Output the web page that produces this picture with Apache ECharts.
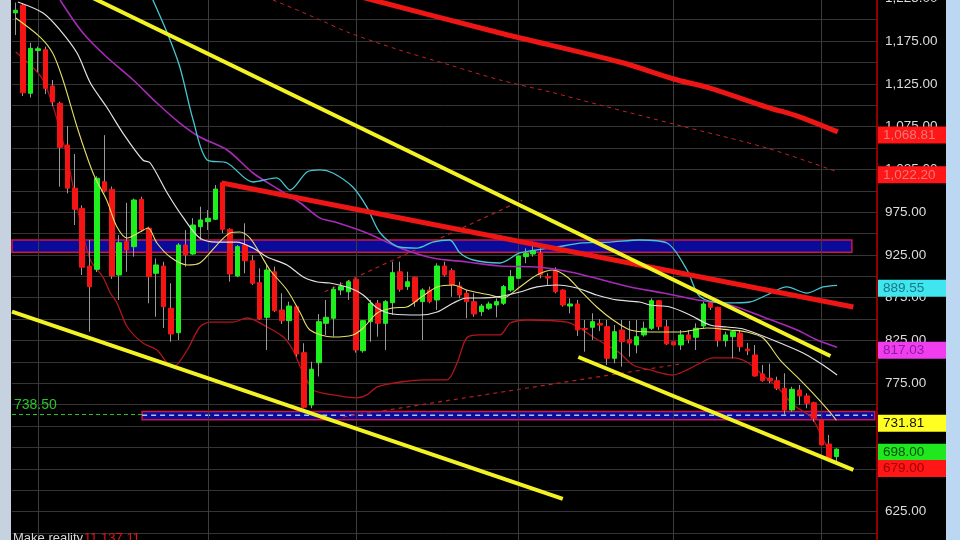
<!DOCTYPE html>
<html><head><meta charset="utf-8">
<script src="https://cdn.jsdelivr.net/npm/echarts/dist/echarts.min.js"></script>
<style>html,body{margin:0;padding:0;background:#000;}#c{width:960px;height:540px;}</style>
</head><body><div id="c"></div>
<script>
// ---------- DATA ----------
const N = 117; // trading-day slots on the x axis (112 candles + right margin)
const categories = [];
for (let i = 0; i < N; i++) categories.push('D' + (i + 1));

// [open, close, low, high]
const ohlc = [
[1208,1211,1182,1220],[1217,1114.6,1110.8,1219.5],[1114,1166.5,1109,1173],[1164,1166,1139,1168.5],
[1165,1119.8,1113,1168.5],[1122.5,1104,1099,1129.5],[1102.3,1050.8,1004.8,1104.1],[1053.5,1003,997,1075.7],
[1003,978.4,960,1043],[979.5,910.6,901.6,983],[912,888,835.3,942.5],[908.2,1014.6,905,1017],
[1010.6,999.8,998,1065],[1001.7,900.4,897,1005],[901.6,939.3,872.4,948.3],[940.5,930.8,905.4,986],
[934.7,989.2,923,991],[990,954.2,952,993],[956.2,899.6,868.5,958],[903.6,913.3,852.8,921],
[912,864.5,839.6,917],[862.7,832.6,823.6,891.9],[834.1,936.6,825.6,939],[936.6,925,911.3,954],
[926.1,960,925,968],[958,965.9,942.5,981.4],[963.9,967.9,954.2,977.5],[966.7,1002,966,1006.8],
[1009.5,955,950.3,1011.5],[955,902.7,893.8,956.2],[900.4,934.7,899,936.6],[936.6,918.3,903.6,962],
[918.3,891.9,890,925],[892.6,850.2,849,909.4],[852.1,907.4,813.9,913.3],[905.4,859.9,858.3,911.3],
[860.7,848.2,844.3,880.2],[848.2,865.3,825.6,870.4],[864.5,809.2,806,866.5],[810.8,747,745.8,821.8],
[749.6,791.4,745.8,800.2],[799.1,847,783,856],[845.1,852.1,831.5,872.4],[851,884.9,829.5,888],
[884,888,878,893],[882,893.7,872.4,895.7],[896.6,813.9,810.8,897.7],[813.1,848.2,810.8,849],
[847,868.5,823.6,872.4],[868.5,845.1,829.5,872.4],[845.1,870.4,813.9,872.4],[869.2,904.3,854.8,917.1],
[905.4,884.9,882,917.1],[888,893.7,884,905.4],[898.9,870.4,864.5,899.6],[870.4,884,825.6,886],
[884,870.4,868.5,888],[872.4,912.1,860.7,915.3],[912.1,901.6,899.6,917.1],[906.6,889.9,876.2,909.4],
[888.7,878.2,874.3,893.7],[880.2,870.4,851,884],[870.4,856,852.8,880.2],[858.7,865.3,853.7,867.7],
[862.7,867.7,860.7,870.4],[866.5,870.4,852.1,874.3],[868.5,888,866.5,890],[884,899.6,882,907.4],
[897.7,923.8,895.7,927.6],[923,927,915.3,932.8],[926.1,930,923,940.5],[927,901.6,897.7,932.8],
[900,898,890,903.6],[907.4,882,880.2,910.6],[884,866.5,864.5,885],[865.3,867.7,856.8,874.3],
[867.7,837.3,830.3,872.4],[839,838,812,849],[840.5,847,825.6,856.8],[845,843,836,850],
[841.2,804.2,796.4,849],[804.2,835.3,798.4,843.1],[837.3,823.6,794.4,849],[826,822,806,848],
[819.8,829.5,810.1,849],[831.5,839.3,829.5,847],[839.3,871.5,837.3,874.3],[871.5,841.2,837.3,872.4],
[841.2,821,819.8,849],[823.6,819.8,804.2,829.5],[819.8,831.5,814,837.3],[831.5,826.4,821.7,837.3],
[828.8,839.3,813.9,845.1],[842,867.7,839.3,870.4],[869.2,863.8,860.7,871.5],[863.8,824.8,817.8,864.5],
[824.8,831.5,817.8,835.3],[829.5,835.3,804.2,837.3],[833.4,817.8,812,837.3],[815,813,808,822],
[808.1,783.5,782.7,819.8],[785.9,778,776.9,796.4],[781,778,775,798],[778,769.2,767,782.7],
[769.2,743.8,738,786.7],[743.8,768,741.8,771],[767.2,760.2,749.6,773],[760.2,751.6,745.8,763.3],
[752.3,734.1,730.1,753.5],[732.1,702.9,700.9,734.1],[704,687.3,685.4,714.6],[689.3,698,683.4,699]
];

// indicator lines: [dayIndex, value]
const maShort = [[0,1202],[3.3,1179.7],[5,1161],[6.4,1129.5],[8.3,1074.6],[9.8,1036],[10.7,1016.1],[12.3,989.2],
[13.7,957.7],[15.1,944.8],[16.8,951.8],[17.9,956.5],[19.1,939],[20.9,922.6],[23.2,913.3],[24.9,915.6],
[27.2,936.6],[29,950.7],[30.3,951.8],[31.7,944.8],[33,927.3],[34.4,907.4],[36.7,884],[38.5,857.2],
[39.8,837.3],[42.9,829.1],[45.6,831.5],[47,839.6],[48.9,857.2],[51,863],[52.9,864.2],[54.7,874.7],
[57,887.6],[59.2,889.9],[61,884],[62.8,880.5],[64.2,878.2],[65.9,874.7],[68.2,887.6],[70.5,901.6],
[72.7,907.4],[74.6,899.2],[76.3,884],[78.6,864.2],[80.8,849],[83.1,837.3],[85.8,835],[89.9,835],
[93.5,839.6],[96.6,837.3],[98.9,835],[101.1,827.9],[103.4,802.2],[105.7,782.4],[107.8,763.7],
[110.1,741.5],[111,731.81]];
const maMid = [[0.3,1220.7],[3.7,1207.8],[6,1187.9],[8.3,1161],[10.1,1126],[12.3,1097.9],[14.5,1067.5],
[17.2,1036],[18.2,1032.5],[20.5,997.4],[22.6,969.4],[24.9,944.8],[27.2,940.1],[29.9,940.1],[32.1,933.1],
[34,922.6],[36.7,913.3],[38.9,899.2],[40.8,893.4],[42.5,892.2],[45.2,886.4],[47,878.2],[48.9,863],
[51,856],[54.7,854.8],[57,858.3],[59.2,868.9],[61,874.7],[62.8,874.7],[65.1,875.9],[68.2,881.7],
[70.5,887.6],[73.2,889.9],[75.9,886.4],[78.6,878.2],[81.3,872.4],[84.4,870],[85.8,866.5],[88.5,864.2],
[91.2,854.8],[93.9,843.1],[96.2,840.8],[98.4,838.5],[100.7,831.5],[103.4,822.1],[106.5,810.4],
[109.2,796.4],[111.1,784.7]];
const maLong = [[6,1223],[9.1,1184.4],[12.3,1156.4],[15.9,1129.5],[19.1,1102.6],[22.2,1079.2],[24.9,1062.9],
[28.6,1047.7],[32.1,1020.8],[35.7,1000.9],[38.5,985.7],[41.2,968],[43.2,963.5],[47.5,950.7],[52,933.1],
[56.4,921.4],[61,916.8],[65.5,912.1],[70.5,910.9],[75,905.1],[79.4,895.7],[83.1,887.6],[87.6,880.5],
[92.2,872.4],[96.6,866.5],[101.1,852.5],[105.7,837.3],[108.4,825.6],[111.1,817.03]];
const cyanLine = [[18.3,1228],[20.5,1184.4],[22.2,1144.7],[24,1082.7],[25.9,1036],[28.6,1032.5],[32.1,1010.3],
[35.3,1015],[37.1,1000.9],[39.4,1022],[41.2,1024.4],[42.9,1020.8],[45.6,1004.4],[47.5,981],[49.3,950.7],
[51.9,934.3],[54.3,933.1],[56.4,940.1],[58.7,942.5],[60.1,927.3],[61.9,919.1],[65.5,915.6],[68.2,927.3],
[73.2,934.3],[76.7,939],[80.4,940.1],[84.4,942.5],[88.1,939],[90.8,907.4],[92.6,875.9],[96.2,868.9],
[99.3,870],[101.6,878.2],[104.3,887.6],[107,880.5],[109.2,887.6],[111.1,889.55]];
const lowerBand = [[0,1162.2],[3.7,1129.5],[6.7,1047.7],[8.4,977.5],[10.1,919.1],[11.8,899.2],[12.8,880.5],
[13.7,868.9],[15.1,840.8],[17.2,822.1],[19.1,813.9],[20.5,798.7],[21.3,794],[23.2,813.9],[24.9,840.8],
[26.3,846.6],[29.4,846.6],[31.3,851.3],[34,840.8],[36.2,829.1],[37.5,813.9],[38.5,794],[39.4,778.9],
[40.2,767.2],[42.9,761.4],[46.2,757.9],[47.5,761.4],[48.9,770.7],[52,776.5],[55.6,778.9],[58.3,778.9],
[59.7,798.7],[61,827.9],[62.8,831.5],[65.5,831.5],[66.9,845.5],[69.2,849],[74.6,846.6],[76.3,839.6],
[78.1,829.1],[80.4,817.4],[81.7,810.4],[83.5,796.4],[85.8,790.6],[88.9,784.7],[90.8,790.6],[92.6,798.7],
[94.3,804.6],[97,804.6],[98.9,799.9],[100.7,787.1],[103,770.7],[105.2,749.6],[107.6,735.6],[108.8,717],
[110.1,693.6]];
const ma200 = [[42.5,1236],[48.3,1223],[65.5,1184.4],[81.7,1150.5],[89.5,1129.5],[93.9,1120.1],[101.6,1097.9],
[106.1,1086.2],[111.2,1068.81]];
const ma150 = [[31.7,1232],[34.8,1223],[41.2,1199.6],[45.2,1184.4],[51.9,1164.6],[58.7,1147],[65.5,1129.5],
[72.3,1115.5],[79,1100.3],[89.5,1076.9],[101.6,1050],[111.1,1022.2]];

// trend lines: [[x1,v1],[x2,v2]]
const redTrend = [[27.9,1009.1],[113.3,864.2]];
const yellowUpper = [[8.7,1232.7],[110.2,806.9]];
const yellowLowerLeft = [[-0.5,858.7],[74,639.8]];
const yellowLowerRight = [[76.1,805.7],[113.3,673.7]];
const redDashSteep = [[41.8,882],[68.5,989]];
const redDashShallow = [[44.3,735.6],[89.9,797.6]];

// zones [x1, x2, vLow, vHigh]
const zoneUpper = [-0.5, 113.1, 928.1, 942.5];
const zoneLower = [17.1, 116.2, 732.5, 742];
const zoneLowerMid = 737.5;
const supportLevel = 738.5;
const supportEnd = 17.1;

const monthStarts = [3, 26, 46, 68, 89, 109];

const tagValues = [1068.81, 1022.20, 889.55, 817.03, 731.81, 698.00, 679.00];
const tagBg = ['#ff1616','#ff1616','#3fe6ef','#f03df0','#ffff22','#1fe81f','#ff1616'];
const tagFg = ['#f07a7a','#f07a7a','#1b7585','#8b1c9b','#111111','#0c4a0c','#a00000'];

// ---------- CHART ----------
function fmt(v){const s=v.toFixed(2).split('.');return s[0].replace(/\B(?=(\d{3})+(?!\d))/g, ',')+'.'+s[1];}

const chart = echarts.init(document.getElementById('c'), null, {renderer:'canvas'});
const lineS = (data, color, width, z, extra) => Object.assign({
  type:'line', xAxisIndex:1, yAxisIndex:0, data, symbol:'none', silent:true, z,
  lineStyle:{color, width}, animation:false
}, extra||{});

const option = {
  backgroundColor:'#000000',
  animation:false,
  grid:{left:12, right:83, top:-23.1, height:577.5, containLabel:false, outerBoundsMode:'none'},
  xAxis:[
    {type:'category', data:categories, boundaryGap:true, show:false},
    {type:'value', min:-0.5, max:N-0.5, show:false}
  ],
  yAxis:{
    type:'value', position:'right', min:575, max:1250, interval:25,
    axisLine:{show:true, onZero:false, lineStyle:{color:'#c00000', width:1.5}},
    axisTick:{show:false},
    axisLabel:{color:'#dcdcdc', fontFamily:'Liberation Sans, Arial', fontSize:13.5, margin:8,
      formatter:v => (Math.round(v - 25) % 50 === 0 ? fmt(v) : '')},
    splitLine:{show:true, lineStyle:{color:'#343434', width:1}}
  },
  series:[
    // zones
    lineS([[zoneUpper[0],zoneUpper[2]]], 'rgba(0,0,0,0)', 0, 1, {
      markArea:{silent:true, itemStyle:{color:'#0b0b9a', borderColor:'#d0144a', borderWidth:1.5},
        data:[[{coord:[zoneUpper[0],zoneUpper[3]]},{coord:[zoneUpper[1],zoneUpper[2]]}],
              [{coord:[zoneLower[0],zoneLower[3]]},{coord:[zoneLower[1],zoneLower[2]]}]]}
    }),
    lineS([[zoneLower[0],zoneLowerMid],[zoneLower[1]-0.3,zoneLowerMid]], '#a8c4ff', 1.5, 2, {lineStyle:{color:'#a8c4ff', width:1.5, type:[5,4]}}),
    lineS([[-0.5,supportLevel],[supportEnd,supportLevel]], '#22c822', 1, 2, {lineStyle:{color:'#22c822', width:1, type:[4,3]}}),
    // month grid lines
    lineS([], '#000', 0, 1, {
      markLine:{silent:true, symbol:'none', label:{show:false},
        lineStyle:{color:'#3c3c3c', width:1, type:'solid'},
        data: monthStarts.map(x => ({xAxis:x}))}
    }),
    // indicators under candles
    lineS(lowerBand, '#b3151a', 1.3, 3, {smooth:0.3}),
    lineS(redDashSteep, '#b32020', 1.2, 3, {lineStyle:{color:'#b32020', width:1.2, type:[4,4]}}),
    lineS(redDashShallow, '#b32020', 1.2, 3, {lineStyle:{color:'#b32020', width:1.2, type:[4,4]}}),
    // candles: wicks then bodies
    {type:'candlestick', xAxisIndex:0, yAxisIndex:0, z:4, silent:true, barWidth:1,
      data: ohlc,
      itemStyle:{color:'#9a9a9a', color0:'#9a9a9a', borderColor:'#9a9a9a', borderColor0:'#9a9a9a', borderWidth:1}},
    {type:'candlestick', xAxisIndex:0, yAxisIndex:0, z:5, silent:true, barWidth:5,
      data: ohlc.map(d => [d[0], d[1], Math.min(d[0],d[1]), Math.max(d[0],d[1])]),
      itemStyle:{color:'#1ef01e', color0:'#f51414', borderColor:'#1ef01e', borderColor0:'#f51414', borderWidth:1}},
    // moving averages
    lineS(maShort, '#e6df6a', 1.1, 6, {smooth:0.3}),
    lineS(maMid, '#e2e2e2', 1.2, 6, {smooth:0.3}),
    lineS(maLong, '#a82ab8', 1.6, 6, {smooth:0.3}),
    lineS(cyanLine, '#45c6d2', 1.3, 6, {smooth:0.3}),
    lineS(ma150, '#c02222', 1, 6, {smooth:0.3, lineStyle:{color:'#c02222', width:1, type:[4,4]}}),
    lineS(ma200, '#ee1515', 5, 7, {smooth:0.3}),
    // trend lines
    lineS(redTrend, '#ee1515', 5, 8),
    lineS(yellowUpper, '#f2f224', 4, 8),
    lineS(yellowLowerLeft, '#f2f224', 4, 8),
    lineS(yellowLowerRight, '#f2f224', 4, 8)
  ]
};
chart.setOption(option);

// price tags and texts (positions from the axis scale)
const g = [];
g.push({type:'rect', shape:{x:0,y:0,width:11,height:540}, style:{fill:'#c6d2e0'}, z:100});
g.push({type:'rect', shape:{x:946,y:0,width:14,height:540}, style:{fill:'#bcd7f2'}, z:100});
tagValues.forEach((v,i) => {
  const py = chart.convertToPixel({yAxisIndex:0}, v) + 3;
  g.push({type:'rect', shape:{x:878, y:py-8.5, width:68, height:17}, style:{fill:tagBg[i]}, z:50});
  g.push({type:'text', x:883, y:py, style:{text:fmt(v), fill:tagFg[i], font:'13.5px "Liberation Sans", Arial', textVerticalAlign:'middle', textAlign:'left'}, z:51});
});
const sy = chart.convertToPixel({yAxisIndex:0}, supportLevel);
g.push({type:'text', x:14, y:sy-9, style:{text:fmt(supportLevel), fill:'#2ac52a', font:'14px "Liberation Sans", Arial', textVerticalAlign:'middle'}, z:51});
g.push({type:'text', x:13, y:532, style:{text:'Make reality', fill:'#d8d8d8', font:'13px "Liberation Sans", Arial', textVerticalAlign:'top'}, z:51});
g.push({type:'text', x:84, y:532, style:{text:'11,137.11', fill:'#e01818', font:'13px "Liberation Sans", Arial', textVerticalAlign:'top'}, z:51});
chart.setOption({graphic:g});
</script>
</body></html>
